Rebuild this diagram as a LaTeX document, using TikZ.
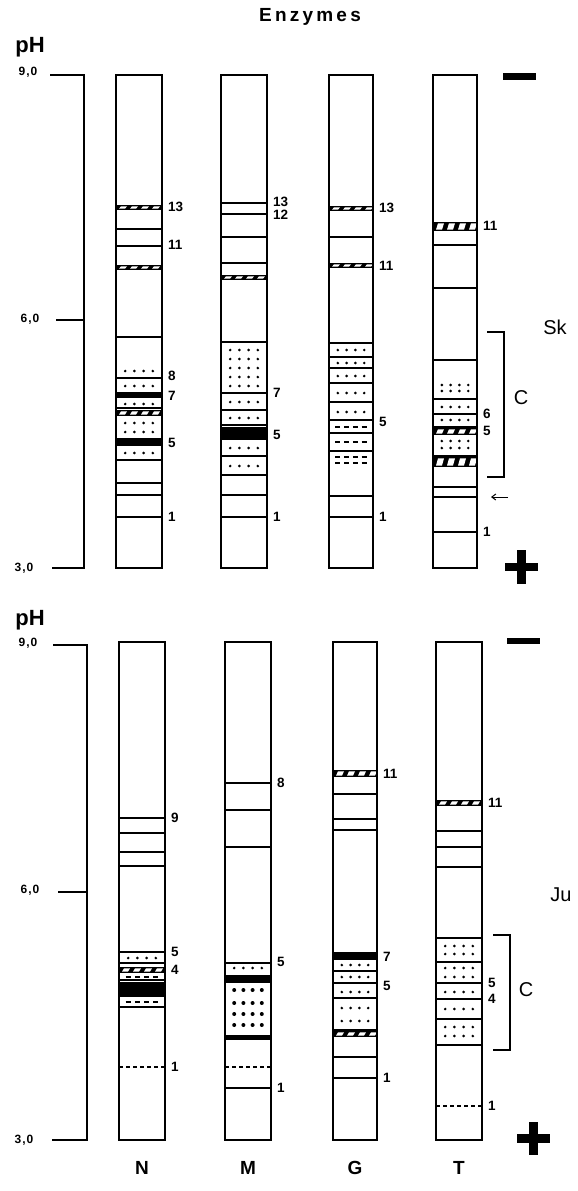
\documentclass[tikz,border=0pt]{standalone}
\usepackage{fontspec}
\setmainfont{Liberation Sans}
\usetikzlibrary{arrows.meta}
\newcommand{\Ln}[1]{\draw[line width=1.4pt] (\xl,#1) -- (\xr,#1);}
\newcommand{\Lk}[1]{\draw[line width=2.6pt] (\xl,#1) -- (\xr,#1);}
\newcommand{\Bk}[2]{\fill (\xl,#1) rectangle (\xr,#2);}
\newcommand{\Ht}[2]{\fill (\xl,#1) rectangle (\xr,#2);
  \foreach \i in {0,1,2,3}{\fill[white] ({\xl+3+\i*11},{#2-1.4}) -- ({\xl+9+\i*11},{#2-1.4}) -- ({\xl+11+\i*11},{#1+1.4}) -- ({\xl+5+\i*11},{#1+1.4}) -- cycle;}}
\newcommand{\Dt}[1]{\foreach \ff in {0.2,0.4,0.6,0.8}{\fill ({\xl+\ff*(\xr-\xl)},#1) circle (1.45);}}
\newcommand{\Dbig}[1]{\foreach \ff in {0.2,0.4,0.6,0.8}{\fill ({\xl+\ff*(\xr-\xl)},#1) circle (2);}}
\newcommand{\Ds}[1]{\foreach \ff in {0.2,0.4,0.6,0.8}{\draw[line width=1.7pt] ({\xl+\ff*(\xr-\xl)-2.5},#1) -- ++(5,0);}}
\newcommand{\Dl}[1]{\draw[line width=1.4pt,dash pattern=on 4pt off 3pt] (\xl,#1) -- (\xr,#1);}
\newcommand{\Lb}[2]{\node[lbl] at ({\xr+6},#1) {#2};}
\newcommand{\Stp}[4]{\draw[line width=1.6pt] (#1,#3) rectangle (#2,#4);}
\begin{document}
\begin{tikzpicture}[x=1pt,y=-1pt,line cap=butt,
  lbl/.style={anchor=west,inner sep=0pt,font=\fontsize{13.5}{13.5}\selectfont\bfseries},
  big/.style={inner sep=0pt,font=\fontsize{19}{19}\selectfont\bfseries},
  side/.style={inner sep=0pt,font=\fontsize{20}{20}\selectfont},
  phval/.style={inner sep=0pt,font=\fontsize{12}{12}\selectfont\bfseries\addfontfeature{LetterSpace=8}},
  scl/.style={line width=1.5pt}]
\useasboundingbox (0,0) rectangle (578,1191);
\fill[white] (0,0) rectangle (578,1191);

\node[big] (title) at (310,17) {\addfontfeature{LetterSpace=17}Enzymes};

% ---------- top section scale ----------
\node[inner sep=0pt,font=\fontsize{22}{22}\selectfont\bfseries] (ph1) at (30,47) {pH};
\node[phval] (t90) at (28,72) {9,0};
\node[phval] (t60) at (30,319) {6,0};
\node[phval] (t30) at (24,568) {3,0};
\draw[scl] (50,75) -- (84,75) -- (84,568) -- (52,568);
\draw[line width=2.4pt] (56,320) -- (84,320);

% ---------- top N ----------
\def\xl{116}\def\xr{162}
\Ht{205}{210}\Lb{207}{13}
\Ln{229}\Ln{246}\Lb{245}{11}
\Ht{265}{270}
\Ln{337}
\Dt{371}
\Ln{378}\Lb{376}{8}
\Dt{386}
\Bk{392}{398}\Lb{396}{7}
\Dt{404}\Ln{408}
\Ht{410}{416}
\Dt{423}\Dt{432}
\Bk{438}{446}\Lb{443}{5}
\Dt{453}\Ln{460}
\Ln{483}\Lk{495}
\Ln{517}\Lb{517}{1}
\Stp{116}{162}{75}{568}

% ---------- top M ----------
\def\xl{221}\def\xr{267}
\Ln{203}\Lb{202}{13}\Ln{214}\Lb{215}{12}
\Ln{237}\Ln{263}\Ht{275}{280}
\Ln{342}
\Dt{350}\Dt{359}\Dt{368}\Dt{377}\Dt{386}
\Ln{393}\Lb{393}{7}
\Dt{402}\Ln{410}\Dt{418}\Ln{425}
\Bk{427}{440}\Lb{435}{5}
\Dt{448}\Ln{456}\Dt{466}\Lk{475}
\Ln{495}\Ln{517}\Lb{517}{1}
\Stp{221}{267}{75}{568}

% ---------- top G ----------
\def\xl{329}\def\xr{373}
\Ht{206}{211}\Lb{208}{13}
\Ln{237}
\Ht{263}{268}\Lb{266}{11}
\Ln{343}\Dt{350}\Ln{357}\Dt{363}\Ln{368}\Dt{376}\Ln{383}\Dt{393}\Ln{402}\Dt{412}\Ln{420}\Ds{427}\Ln{433}\Ds{442}\Ln{451}\Ds{457}\Ds{463}
\Lb{422}{5}
\Ln{496}\Ln{517}\Lb{517}{1}
\Stp{329}{373}{75}{568}

% ---------- top T ----------
\def\xl{433}\def\xr{477}
\Ht{222}{231}\Lb{226}{11}
\Ln{245}\Ln{288}\Lk{360}
\Dt{385}\Dt{391}\Ln{399}\Dt{407}\Ln{414}\Lb{414}{6}\Dt{420}\Ln{427}\Ht{428}{435}\Lb{431}{5}
\Dt{441}\Dt{448}\Ln{456}\Ht{457}{467}\Ln{487}\Lk{497}\Ln{532}\Lb{532}{1}
\Stp{433}{477}{75}{568}

\coordinate (arA) at (508,497);
\coordinate (arB) at (491,497);
\draw[line width=1pt,-{Straight Barb[length=4pt,width=6pt]}] (arA) -- (arB);

\draw[line width=1.5pt] (487,332) -- (504,332) -- (504,477) -- (487,477);
\node[side] (c1) at (521,398) {C};
\node[side] (sk) at (555,327) {Sk};

\fill (503,73) rectangle (536,80);
\fill (505,563) rectangle (538,571);
\fill (517,550) rectangle (526,584);

% ---------- lower section scale ----------
\node[inner sep=0pt,font=\fontsize{22}{22}\selectfont\bfseries] (ph2) at (30,620) {pH};
\node[phval] (b90) at (28,643) {9,0};
\node[phval] (b60) at (30,890) {6,0};
\node[phval] (b30) at (24,1140) {3,0};
\draw[scl] (53,645) -- (87,645) -- (87,1140) -- (52,1140);
\draw[line width=1.5pt] (58,892) -- (87,892);

% ---------- lower N ----------
\def\xl{119}\def\xr{165}
\Ln{818}\Lb{818}{9}\Ln{833}\Ln{852}\Ln{866}
\Ln{952}\Lb{952}{5}\Dt{958}\Ln{963}\Ht{967}{973}\Lb{970}{4}\Ds{977}\Ln{980}\Bk{982}{997}\Ds{1002}\Ln{1007}
\Dl{1067}\Lb{1067}{1}
\Stp{119}{165}{642}{1140}

% ---------- lower M ----------
\def\xl{225}\def\xr{271}
\Ln{783}\Lb{783}{8}\Ln{810}\Lk{847}
\Ln{963}\Lb{962}{5}\Dt{968}\Bk{975}{983}\Dbig{990}\Dbig{1003}\Dbig{1014}\Dbig{1025}\Bk{1035}{1040}
\Dl{1067}\Ln{1088}\Lb{1088}{1}
\Stp{225}{271}{642}{1140}

% ---------- lower G ----------
\def\xl{333}\def\xr{377}
\Ht{770}{777}\Lb{774}{11}\Ln{794}\Ln{819}\Ln{830}
\Bk{952}{960}\Lb{957}{7}\Dt{965}\Ln{971}\Dt{977}\Ln{983}\Lb{986}{5}\Dt{992}\Ln{998}\Dt{1008}\Dt{1021}\Ln{1030}\Ht{1031}{1037}
\Lk{1057}\Ln{1078}\Lb{1078}{1}
\Stp{333}{377}{642}{1140}

% ---------- lower T ----------
\def\xl{436}\def\xr{482}
\Ht{800}{806}\Lb{803}{11}\Lk{831}\Ln{847}\Ln{867}\Lk{938}
\Dt{946}\Dt{954}\Ln{962}\Dt{968}\Dt{977}\Ln{983}\Lb{983}{5}\Dt{992}\Ln{999}\Lb{999}{4}\Dt{1009}\Ln{1019}\Dt{1027}\Dt{1036}\Lk{1045}
\Dl{1106}\Lb{1106}{1}
\Stp{436}{482}{642}{1140}

\draw[line width=1.5pt] (493,935) -- (510,935) -- (510,1050) -- (493,1050);
\node[side] (c2) at (526,990) {C};
\node[side] (ju) at (561,895) {Ju};

\fill (507,638) rectangle (540,644);
\fill (517,1134) rectangle (550,1143);
\fill (529,1122) rectangle (538,1155);

% ---------- column labels ----------
\node[big] (lN) at (142,1168) {N};
\node[big] (lM) at (248,1168) {M};
\node[big] (lG) at (355,1168) {G};
\node[big] (lT) at (459,1168) {T};
\end{tikzpicture}
\end{document}
